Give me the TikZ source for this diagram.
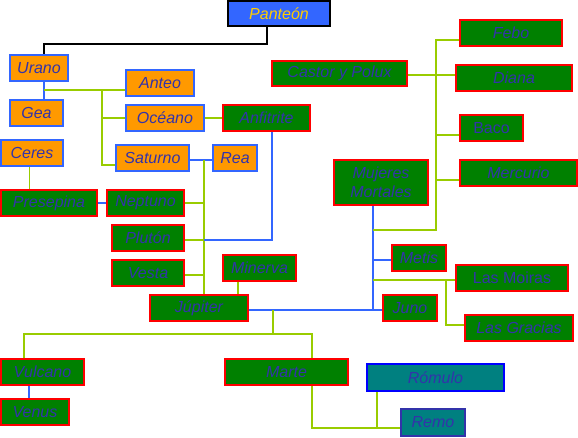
\documentclass[tikz,border=0pt]{standalone}
\usepackage{fontspec}
\setmainfont{Liberation Sans}
\definecolor{orgC}{HTML}{FF9900}
\definecolor{bluC}{HTML}{3366FF}
\definecolor{grnC}{HTML}{008000}
\definecolor{redC}{HTML}{FF0000}
\definecolor{txtC}{HTML}{3333AA}
\definecolor{tealC}{HTML}{008080}
\definecolor{lgrC}{HTML}{99CC00}
\definecolor{yelC}{HTML}{FFCC00}
\pgfdeclarelayer{bg}
\pgfsetlayers{bg,main}
\begin{document}
\begin{tikzpicture}[x=1pt,y=-1pt,
  box/.style={inner sep=0pt, outer sep=0pt, line width=1.1pt, text=txtC,
    font=\fontsize{16}{19}\selectfont\itshape, minimum height=26pt},
  ob/.style={box, fill=orgC, draw=bluC},
  gb/.style={box, fill=grnC, draw=redC},
  tb/.style={box, fill=tealC, draw=blue, minimum height=27pt},
  up/.style={font=\fontsize{16}{19}\selectfont\upshape},
  gr/.style={draw=lgrC, line width=1.4pt},
  bl/.style={draw=bluC, line width=1.4pt},
  blk/.style={draw=black, line width=1.4pt}]
\useasboundingbox (0,0) rectangle (578,437);
\coordinate (k1) at (267,44);
\coordinate (u1) at (44,90);
\coordinate (u2) at (102,90);
\coordinate (s1) at (204,160);
\coordinate (a1) at (272,240);
\coordinate (j1) at (273,310);
\coordinate (j2) at (273,334);
\coordinate (hl) at (24,334);
\coordinate (hr) at (312,334);
\coordinate (v1) at (29,400);
\coordinate (m1) at (312,428);
\coordinate (r1) at (377,428);
\coordinate (b2) at (373,311);
\coordinate (g1) at (373,280);
\coordinate (g2) at (446,280);
\coordinate (c1) at (373,230);
\coordinate (c2) at (436,230);
% nodes
\node[box, fill=bluC, draw=black, text=yelC, minimum width=102pt, minimum height=25pt] (panteon) at (279,13.5) {Panteón};
\node[ob, minimum width=58pt] (urano) at (39,68) {Urano};
\node[ob, minimum width=53pt] (gea) at (36.5,113) {Gea};
\node[ob, minimum width=68pt] (anteo) at (160,83) {Anteo};
\node[ob, minimum width=78pt] (oceano) at (165,118) {Océano};
\node[gb, minimum width=87pt] (anfitrite) at (266.5,118) {Anfitrite};
\node[ob, minimum width=73pt] (saturno) at (152.5,158) {Saturno};
\node[ob, minimum width=44pt] (rea) at (235,158) {Rea};
\node[ob, minimum width=62pt] (ceres) at (32,153) {Ceres};
\node[gb, minimum width=96pt] (presepina) at (49,203) {Presepina};
\node[gb, minimum width=77pt] (neptuno) at (145.5,203) {Neptuno};
\node[gb, minimum width=72pt] (pluton) at (148,238) {Plutón};
\node[gb, minimum width=72pt] (vesta) at (148,273) {Vesta};
\node[gb, minimum width=73pt] (minerva) at (259.5,268) {Minerva};
\node[gb, minimum width=98pt] (jupiter) at (199,308) {Júpiter};
\node[gb, minimum width=83pt] (vulcano) at (42.5,372) {Vulcano};
\node[gb, minimum width=68pt] (venus) at (35,412) {Venus};
\node[gb, minimum width=123pt] (marte) at (286.5,372) {Marte};
\node[tb, minimum width=137pt] (romulo) at (435.5,377.5) {Rómulo};
\node[tb, draw=txtC, minimum width=64pt] (remo) at (433,422.5) {Remo};
\node[gb, minimum width=135pt, minimum height=25pt] (castor) at (339.5,73.5) {Castor y Polux};
\node[gb, minimum width=102pt] (febo) at (511,33) {Febo};
\node[gb, minimum width=116pt] (diana) at (514,78) {Diana};
\node[gb, up, minimum width=63pt] (baco) at (491.5,128) {Baco};
\node[gb, minimum width=117pt] (mercurio) at (518.5,173) {Mercurio};
\node[gb, minimum width=94pt, minimum height=45pt, align=center] (mujeres) at (381,182.5) {Mujeres\\Mortales};
\node[gb, minimum width=54pt] (metis) at (419,258) {Metis};
\node[gb, up, minimum width=112pt] (moiras) at (512,278) {Las Moiras};
\node[gb, minimum width=54pt] (juno) at (410,308) {Juno};
\node[gb, minimum width=108pt] (gracias) at (519,328) {Las Gracias};
% connectors
\begin{pgfonlayer}{bg}
\draw[blk] (k1 |- panteon.south) -- (k1) -| ([xshift=5pt]urano.north);
\draw[bl] ([xshift=5pt]urano.south) -- ([xshift=7.5pt]gea.north);
\draw[gr] (u1) -- (u1 -| anteo.west);
\draw[gr] (u2) |- ([yshift=-7pt]saturno.west);
\draw[gr] (u2 |- oceano.west) -- (oceano.west);
\draw[gr] (oceano.east) -- (anfitrite.west);
\draw[bl] ([yshift=-2pt]saturno.east) -- ([yshift=-2pt]rea.west);
\draw[gr] (s1) -- (s1 |- jupiter.north);
\draw[gr] (neptuno.east) -- (s1 |- neptuno.east);
\draw[gr] ([yshift=-2pt]pluton.east) -- ([yshift=-2pt]s1 |- pluton.east);
\draw[gr] ([yshift=-2pt]vesta.east) -- ([yshift=-2pt]s1 |- vesta.east);
\draw[bl] (a1 |- anfitrite.south) -- (a1) -- (s1 |- a1);
\draw[gr] ([xshift=-2.5pt]ceres.south) -- ([xshift=-2.5pt]ceres.south |- presepina.north);
\draw[bl] (presepina.east) -- (neptuno.west);
\draw[gr] ([xshift=-21.5pt]minerva.south) -- ([xshift=-21.5pt]minerva.south |- jupiter.north);
\draw[bl] ([yshift=-2pt]jupiter.east) -- ([yshift=-2pt]juno.west);
\draw[gr] (j1) -- (j2);
\draw[gr] (hl |- vulcano.north) -- (hl) -- (hr) -- (hr |- marte.north);
\draw[bl] (v1 |- vulcano.south) -- (v1 |- venus.north);
\draw[gr] (m1 |- marte.south) -- (m1) -- (m1 -| remo.west);
\draw[gr] (r1 |- romulo.south) -- (r1);
\draw[bl] (b2 |- mujeres.south) -- (b2);
\draw[bl] ([yshift=-2pt]b2 |- metis.west) -- ([yshift=-2pt]metis.west);
\draw[gr] (g1) -- (g1 -| moiras.west);
\draw[gr] (g2) |- ([yshift=3pt]gracias.west);
\draw[gr] (c1) -- (c2) |- ([yshift=-7pt]febo.west);
\draw[gr] ([yshift=-1.5pt]castor.east) -- ([yshift=-1.5pt]castor.east -| diana.west);
\draw[gr] ([yshift=-7pt]baco.west) -- ([yshift=-7pt]c2 |- baco.west);
\draw[gr] ([yshift=-7pt]mercurio.west) -- ([yshift=-7pt]c2 |- mercurio.west);
\end{pgfonlayer}
\end{tikzpicture}
\end{document}
